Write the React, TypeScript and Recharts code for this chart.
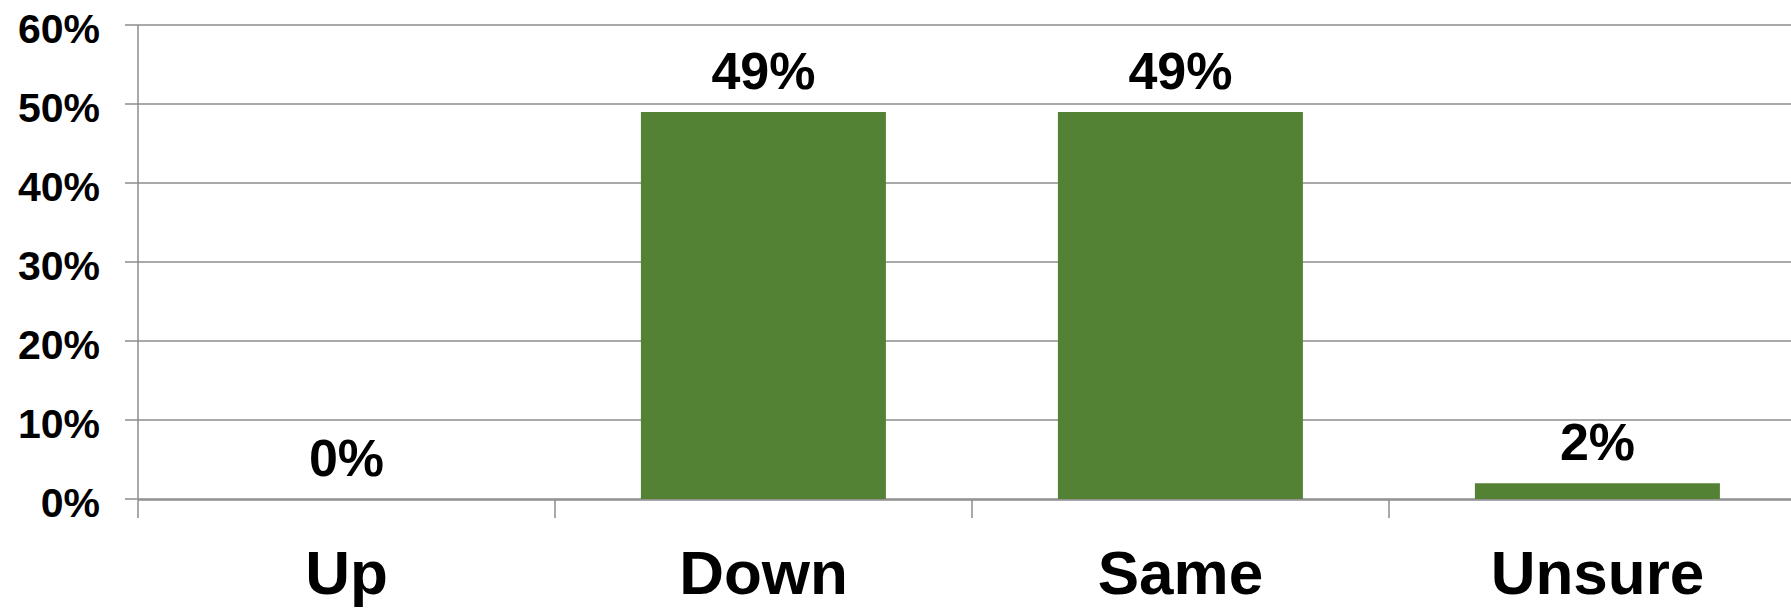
import React from 'react';
import { ComposedChart, Bar, Line, XAxis, YAxis, CartesianGrid, LabelList } from 'recharts';

const categories = ['Up', 'Down', 'Same', 'Unsure'];
const shares = [0, 49, 49, 2];
const yTicks = [0, 10, 20, 30, 40, 50, 60];
// category boundaries for the divider ticks under the axis
const boundaries = [0, 1, 2, 3, 4];

const data = categories.map((name, i) => ({ name, share: shares[i], pos: i + 0.5 }));

const GRID = '#8c8c8c';
const GREEN = '#548235';
const FONT = '"Liberation Sans", Arial, sans-serif';

const pct = (v: number) => `${v}%`;

const App: React.FC = () => {
  return (
    <div style={{ position: 'absolute', left: 0, top: 0, width: 1791, height: 608, overflow: 'hidden', background: '#fff' }}>
      <ComposedChart
        width={1806}
        height={608}
        data={data}
        margin={{ top: 25, right: 0, left: 0, bottom: 0 }}
        barCategoryGap="20.6%"
      >
        <CartesianGrid vertical={false} stroke={GRID} strokeWidth={1.5} />
        <XAxis
          dataKey="name"
          height={1}
          axisLine={false}
          tickLine={false}
          tickSize={0}
          tickMargin={51}
          interval={0}
          tick={{ fill: '#000', fontSize: 62, fontWeight: 700, fontFamily: FONT }}
        />
        <XAxis
          xAxisId="div"
          type="number"
          dataKey="pos"
          domain={[0, 4]}
          ticks={boundaries}
          interval={0}
          height={108}
          axisLine={{ stroke: GRID, strokeWidth: 1.5 }}
          tickLine={{ stroke: GRID, strokeWidth: 1.5 }}
          tickSize={18}
          tickFormatter={() => ''}
        />
        <YAxis
          width={138}
          domain={[0, 60]}
          ticks={yTicks}
          interval={0}
          tickFormatter={pct}
          axisLine={{ stroke: GRID, strokeWidth: 1.5 }}
          tickLine={{ stroke: GRID, strokeWidth: 1.5 }}
          tickSize={13}
          tickMargin={25}
          tick={{ fill: '#000', fontSize: 41, fontWeight: 700, fontFamily: FONT, dy: 3 }}
        />
        <Bar dataKey="share" fill={GREEN} isAnimationActive={false} />
        {/* invisible line carrying the value labels, so the zero bar gets one too */}
        <Line
          dataKey="share"
          stroke="none"
          dot={false}
          activeDot={false}
          isAnimationActive={false}
        >
          <LabelList
            dataKey="share"
            position="top"
            offset={23}
            formatter={pct}
            style={{ fill: '#000', fontSize: 52, fontWeight: 700, fontFamily: FONT }}
          />
        </Line>
      </ComposedChart>
    </div>
  );
};

export default App;
